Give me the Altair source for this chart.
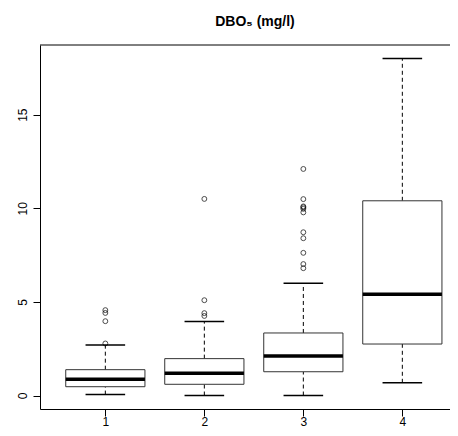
import altair as alt
import pandas as pd

# ---- data ----
groups = [1, 2, 3, 4]
lower_whisker = [0.05, 0.0, 0.0, 0.68]
q1 = [0.47, 0.60, 1.27, 2.75]
median = [0.87, 1.19, 2.11, 5.41]
q3 = [1.38, 1.97, 3.34, 10.40]
upper_whisker = [2.70, 3.95, 6.00, 18.00]
outliers_1 = [2.78, 3.97, 4.41, 4.56]
outliers_2 = [4.25, 4.40, 5.09, 10.50]
outliers_3 = [6.80, 7.02, 7.62, 8.40, 8.72, 9.78, 9.97, 10.05, 10.10, 10.49, 12.10]
outliers_4 = []
x_ticks = [1, 2, 3, 4]
y_ticks = [0, 5, 10, 15]
title_text = "DBO₅ (mg/l)"

FONT = "Liberation Sans"

df = pd.DataFrame({
    "g": groups, "lw": lower_whisker, "q1": q1, "med": median,
    "q3": q3, "uw": upper_whisker,
})
out_rows = []
for g, vals in zip(groups, [outliers_1, outliers_2, outliers_3, outliers_4]):
    for v in vals:
        out_rows.append({"g": g, "v": v})
df_out = pd.DataFrame(out_rows)

W, H = 410, 364
xs = alt.Scale(domain=[0.34, 0.34 + W / 99.0], nice=False, zero=False)
ys = alt.Scale(domain=[-0.72, 18.72], nice=False, zero=False)

xaxis = alt.Axis(values=x_ticks, format="d", title=None, grid=False,
                 tickSize=7, tickColor="black", domainColor="black",
                 labelColor="black", labelFontSize=12, labelFont=FONT,
                 labelPadding=0)
yaxis = alt.Axis(values=y_ticks, format="d", title=None, grid=False,
                 tickSize=7, tickColor="black", domainColor="black",
                 labelColor="black", labelFontSize=12, labelFont=FONT,
                 labelAngle=-90, labelPadding=4)

base = alt.Chart(df).transform_calculate(
    lo="datum.g - 0.4", hi="datum.g + 0.4",
    clo="datum.g - 0.2", chi="datum.g + 0.2",
)

whisk_up = base.mark_rule(color="black", strokeWidth=1, strokeDash=[4, 3]).encode(
    x=alt.X("g:Q", scale=xs, axis=xaxis),
    y=alt.Y("q3:Q", scale=ys, axis=yaxis), y2="uw:Q")
whisk_lo = base.mark_rule(color="black", strokeWidth=1, strokeDash=[4, 3]).encode(
    x=alt.X("g:Q", scale=xs), y=alt.Y("lw:Q", scale=ys), y2="q1:Q")
cap_up = base.mark_rule(color="black", strokeWidth=1.5).encode(
    x=alt.X("clo:Q", scale=xs), x2="chi:Q", y=alt.Y("uw:Q", scale=ys))
cap_lo = base.mark_rule(color="black", strokeWidth=1.5).encode(
    x=alt.X("clo:Q", scale=xs), x2="chi:Q", y=alt.Y("lw:Q", scale=ys))
box = base.mark_rect(fill="white", stroke="#333333", strokeWidth=1).encode(
    x=alt.X("lo:Q", scale=xs), x2="hi:Q",
    y=alt.Y("q1:Q", scale=ys), y2="q3:Q")
med = base.mark_rule(color="black", strokeWidth=3.5).encode(
    x=alt.X("lo:Q", scale=xs), x2="hi:Q", y=alt.Y("med:Q", scale=ys))
pts = alt.Chart(df_out).mark_point(shape="circle", filled=False, size=24,
                                   stroke="black", strokeWidth=1).encode(
    x=alt.X("g:Q", scale=xs), y=alt.Y("v:Q", scale=ys))

top_line = alt.Chart(pd.DataFrame({"t": [0]})).mark_rule(color="black", strokeWidth=1).encode(
    x=alt.value(0), x2=alt.value(W), y=alt.value(0))

title = alt.Chart(pd.DataFrame({"t": [title_text]})).mark_text(
    font=FONT, fontSize=14, fontWeight="bold", color="black",
    align="center", baseline="alphabetic").encode(
    text="t:N", x=alt.value(215), y=alt.value(-19))

chart = alt.layer(whisk_up, whisk_lo, cap_up, cap_lo, box, med, pts, top_line, title).properties(
    width=W, height=H,
    autosize=alt.AutoSizeParams(type="none"),
    padding={"left": 32, "top": 37, "right": 0, "bottom": 19},
).configure_view(stroke=None)

chart.save("out.html", embed_options={"renderer": "svg", "actions": False})
